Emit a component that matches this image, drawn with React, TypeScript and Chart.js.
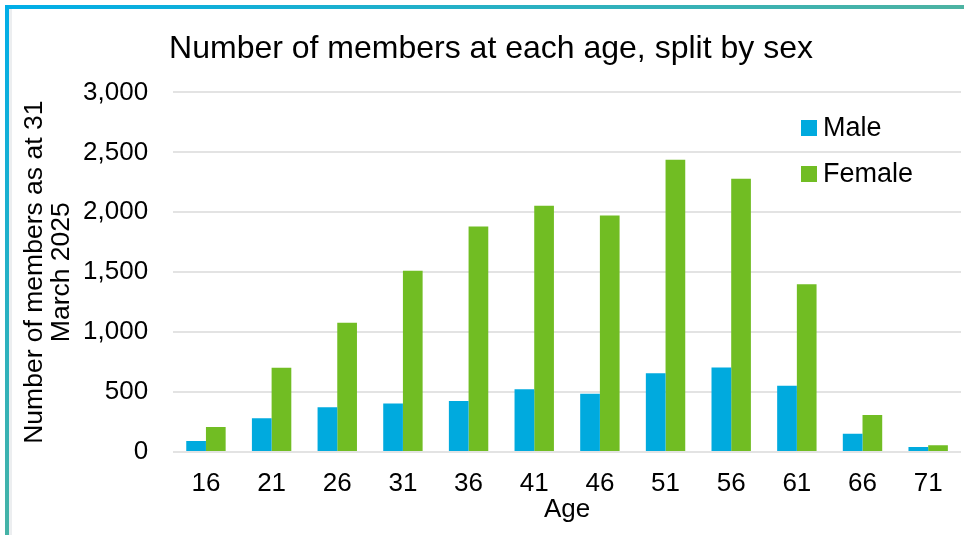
import React, { useEffect, useRef } from "react";
import { Chart, registerables } from "chart.js";

Chart.register(...registerables);

const ages = ["16", "21", "26", "31", "36", "41", "46", "51", "56", "61", "66", "71"];
const maleValues = [92, 282, 374, 404, 426, 524, 485, 658, 705, 552, 153, 42];
const femaleValues = [209, 702, 1079, 1513, 1881, 2055, 1973, 2439, 2280, 1399, 309, 56];
const yTicks = [0, 500, 1000, 1500, 2000, 2500, 3000];

const MALE_COLOR = "#00aade";
const FEMALE_COLOR = "#71bd23";
const FONT = "'Liberation Sans', Arial, sans-serif";

const legendPlugin = {
  id: "insideLegend",
  afterDraw(chart: any) {
    const ctx = chart.ctx;
    const items = chart.data.datasets.map((d: any) => ({ label: d.label, color: d.backgroundColor }));
    const x = 801;
    const ys = [128, 174];
    ctx.save();
    ctx.font = `27px ${FONT}`;
    ctx.textBaseline = "middle";
    ctx.textAlign = "left";
    items.forEach((it: any, i: number) => {
      ctx.fillStyle = it.color;
      ctx.fillRect(x, ys[i] - 8, 16, 16);
      ctx.fillStyle = "#000";
      ctx.fillText(it.label, x + 22, ys[i] + 1);
    });
    ctx.restore();
  },
};

export default function App() {
  const ref = useRef<HTMLCanvasElement | null>(null);
  useEffect(() => {
    if (!ref.current) return;
    const chart = new Chart(ref.current, {
      type: "bar",
      data: {
        labels: ages,
        datasets: [
          { label: "Male", data: maleValues, backgroundColor: MALE_COLOR, categoryPercentage: 0.6, barPercentage: 1 },
          { label: "Female", data: femaleValues, backgroundColor: FEMALE_COLOR, categoryPercentage: 0.6, barPercentage: 1 },
        ],
      },
      options: {
        responsive: false,
        animation: false,
        layout: { padding: { top: 30, left: 21, right: 3, bottom: 12 } },
        plugins: {
          legend: { display: false },
          tooltip: { enabled: false },
          title: {
            display: true,
            text: "Number of members at each age, split by sex",
            color: "#000",
            font: { family: FONT, size: 32, weight: "normal", lineHeight: 1.2 },
            padding: { top: 0, bottom: 24 },
          },
        },
        scales: {
          x: {
            grid: { display: false, drawTicks: false },
            border: { display: false },
            ticks: { color: "#000", font: { family: FONT, size: 26, lineHeight: 1.0 }, padding: 19, maxRotation: 0 },
            title: {
              display: true,
              text: "Age",
              color: "#000",
              font: { family: FONT, size: 26, lineHeight: 1.0 },
              padding: { top: -19, bottom: 0 },
            },
          },
          y: {
            min: 0,
            max: 3000,
            afterBuildTicks: (scale: any) => {
              scale.ticks = yTicks.map((v) => ({ value: v }));
            },
            grid: { color: "#e3e3e3", lineWidth: 2, drawTicks: false },
            border: { display: false },
            ticks: {
              color: "#000",
              font: { family: FONT, size: 26 },
              padding: 25,
              callback: (v: any) => Number(v).toLocaleString("en-US"),
            },
            title: {
              display: true,
              text: ["Number of members as at 31", "March 2025"],
              color: "#000",
              font: { family: FONT, size: 26.5, lineHeight: 1.02 },
              padding: { top: 0, bottom: -17 },
            },
          },
        },
      },
      plugins: [legendPlugin],
    });
    return () => chart.destroy();
  }, []);

  return (
    <div style={{ position: "fixed", left: 0, top: 0, width: 964, height: 535, background: "#fff", overflow: "hidden" }}>
      <canvas ref={ref} width={964} height={535} style={{ position: "absolute", left: 0, top: 0 }} />
      <div style={{ position: "absolute", left: 5, top: 5, width: 959, height: 4, background: "linear-gradient(to right, #00aee8, #4db3a2)" }} />
      <div style={{ position: "absolute", left: 5, top: 5, width: 4, height: 530, background: "linear-gradient(to bottom, #00aee8, #45b3a6)" }} />
      <div style={{ position: "absolute", left: 9, top: 9, width: 3, height: 526, background: "#eceef0" }} />
    </div>
  );
}
